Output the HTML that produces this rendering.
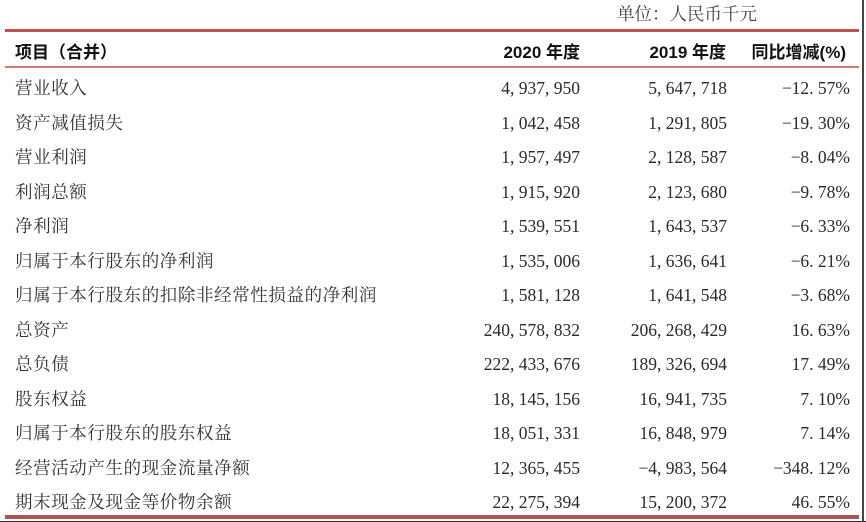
<!DOCTYPE html>
<html><head><meta charset="utf-8">
<style>
html,body{margin:0;padding:0;background:#fff;}
body{width:866px;height:522px;position:relative;overflow:hidden;}
.ln{position:absolute;}
.t{position:absolute;white-space:nowrap;}
.lab{left:15px;font-family:"Liberation Serif","Noto Serif CJK SC",serif;font-size:17.5px;color:#333;height:34.5px;line-height:34.5px;letter-spacing:0.6px;}
.num{font-family:"Liberation Serif","Noto Serif CJK SC",serif;font-size:17.5px;color:#2a2a2a;height:34.5px;line-height:34.5px;text-align:right;}
.num i{font-style:normal;display:inline-block;width:0.5em;text-align:left;}
.num s{text-decoration:none;display:inline-block;width:0.55em;text-align:center;}
.c1{right:286px;}
.c2{right:139px;}
.c3{right:16px;}
.hd{top:36px;height:34px;line-height:34px;font-family:"Liberation Sans","Noto Sans CJK SC",sans-serif;font-weight:bold;font-size:17px;color:#111;}
</style></head><body>
<div class="t" style="left:617px;top:0;height:28px;line-height:28px;font-family:'Liberation Serif','Noto Serif CJK SC',serif;font-size:17.5px;color:#444;">单位：人民币千元</div>
<div class="ln" style="left:5px;top:29px;width:854px;height:3px;background:#c25250;"></div>
<div class="ln" style="left:5px;top:66px;width:854px;height:2px;background:#d27a78;"></div>
<div class="ln" style="left:5px;top:515px;width:854px;height:4px;background:#b35454;"></div>
<div class="ln" style="left:0;top:521px;width:866px;height:1px;background:#333;"></div>
<div class="ln" style="left:862px;top:0;width:1.5px;height:522px;background:#444;"></div>

<div class="t hd" style="left:15px;">项目（合并）</div>
<div class="t hd" style="right:286px;">2020 年度</div>
<div class="t hd" style="right:140px;">2019 年度</div>
<div class="t hd" style="right:20px;">同比增减(%)</div>

<div class="t lab" style="top:71.25px">营业收入</div>
<div class="t num c1" style="top:71.25px">4<i>,</i>937<i>,</i>950</div>
<div class="t num c2" style="top:71.25px">5<i>,</i>647<i>,</i>718</div>
<div class="t num c3" style="top:71.25px"><s>−</s>12<i>.</i>57%</div>

<div class="t lab" style="top:105.75px">资产减值损失</div>
<div class="t num c1" style="top:105.75px">1<i>,</i>042<i>,</i>458</div>
<div class="t num c2" style="top:105.75px">1<i>,</i>291<i>,</i>805</div>
<div class="t num c3" style="top:105.75px"><s>−</s>19<i>.</i>30%</div>

<div class="t lab" style="top:140.25px">营业利润</div>
<div class="t num c1" style="top:140.25px">1<i>,</i>957<i>,</i>497</div>
<div class="t num c2" style="top:140.25px">2<i>,</i>128<i>,</i>587</div>
<div class="t num c3" style="top:140.25px"><s>−</s>8<i>.</i>04%</div>

<div class="t lab" style="top:174.75px">利润总额</div>
<div class="t num c1" style="top:174.75px">1<i>,</i>915<i>,</i>920</div>
<div class="t num c2" style="top:174.75px">2<i>,</i>123<i>,</i>680</div>
<div class="t num c3" style="top:174.75px"><s>−</s>9<i>.</i>78%</div>

<div class="t lab" style="top:209.25px">净利润</div>
<div class="t num c1" style="top:209.25px">1<i>,</i>539<i>,</i>551</div>
<div class="t num c2" style="top:209.25px">1<i>,</i>643<i>,</i>537</div>
<div class="t num c3" style="top:209.25px"><s>−</s>6<i>.</i>33%</div>

<div class="t lab" style="top:243.75px">归属于本行股东的净利润</div>
<div class="t num c1" style="top:243.75px">1<i>,</i>535<i>,</i>006</div>
<div class="t num c2" style="top:243.75px">1<i>,</i>636<i>,</i>641</div>
<div class="t num c3" style="top:243.75px"><s>−</s>6<i>.</i>21%</div>

<div class="t lab" style="top:278.25px">归属于本行股东的扣除非经常性损益的净利润</div>
<div class="t num c1" style="top:278.25px">1<i>,</i>581<i>,</i>128</div>
<div class="t num c2" style="top:278.25px">1<i>,</i>641<i>,</i>548</div>
<div class="t num c3" style="top:278.25px"><s>−</s>3<i>.</i>68%</div>

<div class="t lab" style="top:312.75px">总资产</div>
<div class="t num c1" style="top:312.75px">240<i>,</i>578<i>,</i>832</div>
<div class="t num c2" style="top:312.75px">206<i>,</i>268<i>,</i>429</div>
<div class="t num c3" style="top:312.75px">16<i>.</i>63%</div>

<div class="t lab" style="top:347.25px">总负债</div>
<div class="t num c1" style="top:347.25px">222<i>,</i>433<i>,</i>676</div>
<div class="t num c2" style="top:347.25px">189<i>,</i>326<i>,</i>694</div>
<div class="t num c3" style="top:347.25px">17<i>.</i>49%</div>

<div class="t lab" style="top:381.75px">股东权益</div>
<div class="t num c1" style="top:381.75px">18<i>,</i>145<i>,</i>156</div>
<div class="t num c2" style="top:381.75px">16<i>,</i>941<i>,</i>735</div>
<div class="t num c3" style="top:381.75px">7<i>.</i>10%</div>

<div class="t lab" style="top:416.25px">归属于本行股东的股东权益</div>
<div class="t num c1" style="top:416.25px">18<i>,</i>051<i>,</i>331</div>
<div class="t num c2" style="top:416.25px">16<i>,</i>848<i>,</i>979</div>
<div class="t num c3" style="top:416.25px">7<i>.</i>14%</div>

<div class="t lab" style="top:450.75px">经营活动产生的现金流量净额</div>
<div class="t num c1" style="top:450.75px">12<i>,</i>365<i>,</i>455</div>
<div class="t num c2" style="top:450.75px"><s>−</s>4<i>,</i>983<i>,</i>564</div>
<div class="t num c3" style="top:450.75px"><s>−</s>348<i>.</i>12%</div>

<div class="t lab" style="top:485.25px">期末现金及现金等价物余额</div>
<div class="t num c1" style="top:485.25px">22<i>,</i>275<i>,</i>394</div>
<div class="t num c2" style="top:485.25px">15<i>,</i>200<i>,</i>372</div>
<div class="t num c3" style="top:485.25px">46<i>.</i>55%</div>
</body></html>
